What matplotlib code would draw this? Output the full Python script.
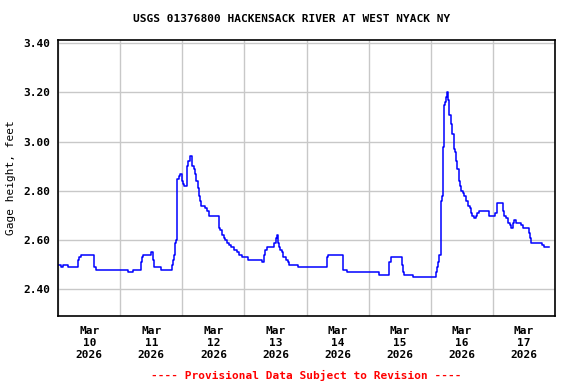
import numpy as np
import pandas as pd
import matplotlib
matplotlib.use('Agg')
import matplotlib.pyplot as plt
import matplotlib.dates as mdates
import matplotlib.ticker as mticker

# gage height readings, hours after 2026-03-10 00:00 (step changes only)
hours = [0.0, 0.9, 1.9, 3.9, 7.8, 8.1, 8.9, 13.9, 14.7, 27.0, 28.8, 31.8, 32.3, 32.9,
         35.9, 36.8, 37.0, 39.9, 43.9, 44.3, 44.7, 45.0, 45.2, 45.4, 45.8, 46.1, 46.5,
         47.0, 47.8, 48.3, 48.8, 49.9, 50.3, 50.9, 51.9, 52.4, 52.8, 53.4, 54.0, 54.5,
         55.0, 55.2, 56.7, 57.4, 58.2, 62.2, 62.6, 63.2, 63.9, 64.4, 65.2, 65.9, 66.9,
         67.8, 69.0, 69.8, 70.9, 73.2, 78.9, 79.6, 80.0, 80.9, 83.6, 84.1, 84.5, 84.9,
         85.4, 85.9, 86.5, 87.1, 87.9, 88.8, 89.4, 92.9, 103.9, 104.3, 110.0, 111.8,
         123.9, 128.0, 128.5, 132.8, 133.3, 133.8, 137.3, 146.1, 146.5, 146.9, 147.2,
         147.9, 148.3, 148.7, 149.0, 149.4, 149.8, 150.2, 150.7, 151.0, 151.9, 152.3,
         152.9, 153.4, 153.8, 154.2, 154.9, 155.4, 155.8, 156.4, 156.9, 157.7, 158.3,
         159.1, 159.8, 160.1, 160.8, 161.6, 162.1, 162.6, 166.7, 169.0, 169.7, 171.9,
         172.5, 173.3, 173.9, 174.6, 175.1, 175.8, 176.1, 177.1, 178.9, 179.8, 181.9,
         182.5, 182.9, 187.1, 188.0, 189.7]
gage = [2.50, 2.49, 2.50, 2.49, 2.52, 2.53, 2.54, 2.49, 2.48, 2.47, 2.48, 2.51, 2.53, 2.54,
        2.55, 2.52, 2.49, 2.48, 2.50, 2.52, 2.54, 2.57, 2.59, 2.60, 2.72, 2.85, 2.86,
        2.87, 2.84, 2.83, 2.82, 2.90, 2.92, 2.94, 2.90, 2.89, 2.87, 2.84, 2.81, 2.78,
        2.76, 2.74, 2.73, 2.72, 2.70, 2.65, 2.64, 2.62, 2.61, 2.60, 2.59, 2.58, 2.57,
        2.56, 2.55, 2.54, 2.53, 2.52, 2.51, 2.54, 2.56, 2.57, 2.59, 2.61, 2.62, 2.59,
        2.57, 2.56, 2.55, 2.53, 2.52, 2.51, 2.50, 2.49, 2.53, 2.54, 2.48, 2.47,
        2.46, 2.51, 2.53, 2.50, 2.47, 2.46, 2.45, 2.47, 2.49, 2.51, 2.54,
        2.76, 2.78, 2.98, 3.15, 3.16, 3.18, 3.20, 3.17, 3.11, 3.07, 3.03,
        2.97, 2.96, 2.92, 2.89, 2.84, 2.82, 2.80, 2.79, 2.78, 2.76, 2.74,
        2.73, 2.71, 2.70, 2.69, 2.70, 2.71, 2.72, 2.70, 2.71, 2.75, 2.72,
        2.70, 2.69, 2.67, 2.66, 2.65, 2.67, 2.68, 2.67, 2.66, 2.65, 2.63,
        2.61, 2.59, 2.58, 2.57, 2.57]
yticks = [2.40, 2.60, 2.80, 3.00, 3.20, 3.40]

start = pd.Timestamp('2026-03-10')
t = start + pd.to_timedelta(hours, unit='h')

mono = 'DejaVu Sans Mono'
plt.rcParams['font.family'] = mono
plt.rcParams['font.weight'] = 'bold'
plt.rcParams['font.size'] = 8

fig = plt.figure(figsize=(5.76, 3.84), dpi=100)
ax = fig.add_axes([58.3/576, 1-316/384, (554.7-58.3)/576, (316-39.5)/384])

ax.plot(t, gage, drawstyle='steps-post', color='#0000ff', lw=1.1)

ax.set_xlim(start, start + pd.Timedelta(days=8))
ax.set_ylim(2.2915, 3.4154)
ax.set_yticks(yticks)
ax.yaxis.set_major_formatter(mticker.FormatStrFormatter('%.2f'))

# gridlines at midnight, labels at noon
ax.xaxis.set_major_locator(mdates.DayLocator())
ax.xaxis.set_major_formatter(mticker.NullFormatter())
ax.xaxis.set_minor_locator(mdates.HourLocator(byhour=[12]))
ax.xaxis.set_minor_formatter(mdates.DateFormatter('%b\n%d\n%Y'))
ax.tick_params(axis='x', which='both', length=0, pad=7)
ax.tick_params(axis='y', length=0, pad=6)
for lab in ax.get_xticklabels(minor=True):
    lab.set_linespacing(1.25)

ax.grid(True, which='major', color='#c8c8c8', lw=1.0)
ax.set_axisbelow(True)
for s in ax.spines.values():
    s.set_linewidth(1.2)

ax.set_ylabel('Gage height, feet', labelpad=5)

fig.text(292/576, 1-19/384, 'USGS 01376800 HACKENSACK RIVER AT WEST NYACK NY',
         ha='center', va='center')
fig.text(306/576, 1-375/384, '---- Provisional Data Subject to Revision ----',
         ha='center', va='center', color='red')

fig.savefig('out.png', dpi=100)
